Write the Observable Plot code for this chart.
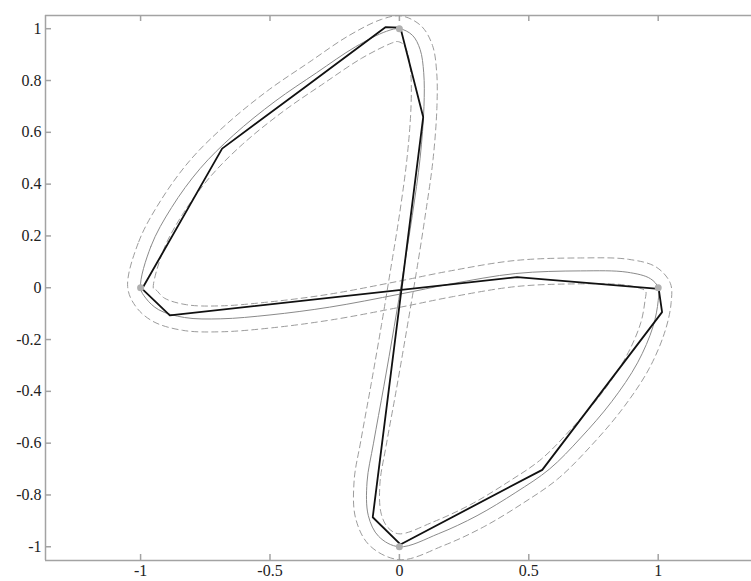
<!DOCTYPE html>
<html>
<head>
<meta charset="utf-8">
<script src="https://cdn.jsdelivr.net/npm/d3@7"></script>
<script src="https://cdn.jsdelivr.net/npm/@observablehq/plot@0.6"></script>
<style>
  html, body { margin: 0; padding: 0; background: #fff; }
  #chart svg { display: block; }
</style>
</head>
<body>
<div id="chart"></div>
<script>
// Axis ticks
const xTicks = [-1, -0.5, 0, 0.5, 1];
const yTicks = [-1, -0.8, -0.6, -0.4, -0.2, 0, 0.2, 0.4, 0.6, 0.8, 1];
const xDomain = [-1.3674, 1.3605];
const yDomain = [-1.053, 1.051];

// Sample nodes of the curve
const nodeX = [0, -1, 0, 1];
const nodeY = [1, 0, -1, 0];

// Piecewise-linear approximation (closed polygon)
const polyX = [-0.994, -0.685, -0.356, -0.054, 0.004, 0.092, -0.103, 0.004, 0.552, 1.015, 1.002, 0.455, -0.887];
const polyY = [-0.004, 0.537, 0.781, 1.006, 1.004, 0.659, -0.886, -0.991, -0.703, -0.094, -0.004, 0.041, -0.107];

// Smooth figure-eight curve (closed)
const curveX = [-1, -0.96, -0.88, -0.77, -0.64, -0.48, -0.32, -0.17, -0.05, 0, 0.05, 0.08, 0.094, 0.095, 0.08, 0.05, 0.015, -0.02, -0.06, -0.10, -0.125, -0.12, -0.08, 0, 0.15, 0.3, 0.45, 0.58, 0.7, 0.82, 0.92, 0.98, 1.0, 1, 0.97, 0.88, 0.7, 0.45, 0.2, 0, -0.27, -0.5, -0.69, -0.83, -0.93, -0.98];
const curveY = [0, 0.16, 0.31, 0.46, 0.59, 0.72, 0.83, 0.93, 0.99, 1, 0.975, 0.92, 0.83, 0.70, 0.50, 0.28, 0.06, -0.15, -0.38, -0.60, -0.75, -0.88, -0.96, -1, -0.95, -0.88, -0.79, -0.70, -0.58, -0.44, -0.29, -0.15, -0.05, 0, 0.035, 0.06, 0.065, 0.055, 0.015, -0.025, -0.075, -0.105, -0.12, -0.115, -0.085, -0.04];

// Tolerance band, first boundary (outside the upper loop, inside the lower loop)
const bandAX = [-1.05, -1.007, -0.922, -0.808, -0.673, -0.51, -0.348, -0.196, -0.069, 0.0075, 0.085, 0.128, 0.144, 0.145, 0.13, 0.099, 0.065, 0.029, -0.011, -0.051, -0.075, -0.071, -0.045, -0.002, 0.131, 0.277, 0.423, 0.548, 0.663, 0.78, 0.876, 0.933, 0.95, 0.953, 0.948, 0.8745, 0.7, 0.4545, 0.209, 0.009, -0.262, -0.495, -0.6885, -0.837, -0.952, -1.019];
const bandAY = [0.005, 0.178, 0.337, 0.493, 0.627, 0.76, 0.871, 0.973, 1.036, 1.0495, 1.01, 0.935, 0.833, 0.698, 0.495, 0.273, 0.056, -0.158, -0.389, -0.609, -0.754, -0.8695, -0.925, -0.95, -0.904, -0.836, -0.748, -0.662, -0.546, -0.41, -0.266, -0.134, -0.043, -0.017, -0.0097, 0.0103, 0.015, 0.005, -0.034, -0.074, -0.124, -0.155, -0.17, -0.1645, -0.13, -0.072];

// Tolerance band, second boundary (inside the upper loop, outside the lower loop)
const bandBX = [-0.95, -0.913, -0.838, -0.732, -0.607, -0.45, -0.292, -0.144, -0.031, -0.0075, 0.015, 0.032, 0.044, 0.045, 0.03, 0.001, -0.035, -0.069, -0.109, -0.149, -0.175, -0.169, -0.115, 0.002, 0.169, 0.324, 0.477, 0.612, 0.737, 0.86, 0.964, 1.027, 1.05, 1.047, 0.992, 0.8855, 0.7, 0.4455, 0.191, -0.009, -0.278, -0.505, -0.6915, -0.823, -0.908, -0.941];
const bandBY = [-0.005, 0.142, 0.283, 0.427, 0.553, 0.68, 0.789, 0.887, 0.944, 0.9505, 0.94, 0.905, 0.827, 0.702, 0.505, 0.287, 0.064, -0.142, -0.371, -0.591, -0.746, -0.8905, -0.995, -1.05, -0.996, -0.924, -0.832, -0.738, -0.614, -0.47, -0.314, -0.166, -0.057, 0.017, 0.08, 0.1097, 0.115, 0.105, 0.064, 0.024, -0.026, -0.055, -0.07, -0.0655, -0.04, -0.008];

const zip = (xs, ys) => xs.map((x, i) => ({x, y: ys[i]}));
const poly = zip(polyX, polyY);
const curve = zip(curveX, curveY);
const bandA = zip(bandAX, bandAY);
const bandB = zip(bandBX, bandBY);
const nodes = zip(nodeX, nodeY);

const W = 751, H = 581;
const mL = 45, mR = 0, mT = 15, mB = 21;
const plotW = W - mL - mR, plotH = H - mT - mB;
const axisColor = "#a3a3a3";
const font = "'Liberation Serif', 'Times New Roman', serif";

const chart = Plot.plot({
  width: W,
  height: H,
  marginLeft: mL,
  marginRight: mR,
  marginTop: mT,
  marginBottom: mB,
  style: {background: "#fff", fontFamily: font, fontSize: "16px", color: "#222"},
  x: {domain: xDomain, label: null},
  y: {domain: yDomain, label: null},
  marks: [
    // box edges (top, bottom, left)
    Plot.ruleY([yDomain[1]], {stroke: axisColor, strokeWidth: 1.5}),
    Plot.ruleY([yDomain[0]], {stroke: axisColor, strokeWidth: 1.5}),
    Plot.ruleX([xDomain[0]], {stroke: axisColor, strokeWidth: 1.5}),
    // inward tick marks
    Plot.tickX(xTicks, {x: d => d, insetTop: plotH - 6, stroke: axisColor, strokeWidth: 1.5}),
    Plot.tickX(xTicks, {x: d => d, insetBottom: plotH - 6, stroke: axisColor, strokeWidth: 1.5}),
    Plot.tickY(yTicks, {y: d => d, insetRight: plotW - 6, stroke: axisColor, strokeWidth: 1.5}),
    // tick labels
    Plot.axisX(xTicks, {anchor: "bottom", tickSize: 0, tickPadding: 4, tickFormat: d => String(d), fontFamily: font, fontSize: 16, fill: "#222", label: null}),
    Plot.axisY(yTicks, {anchor: "left", tickSize: 0, tickPadding: 4, tickFormat: d => String(d), fontFamily: font, fontSize: 16, fill: "#222", label: null}),
    // tolerance band boundaries
    Plot.line(bandA, {x: "x", y: "y", curve: "catmull-rom-closed", stroke: "#9c9c9c", strokeWidth: 1, strokeDasharray: "6,4"}),
    Plot.line(bandB, {x: "x", y: "y", curve: "catmull-rom-closed", stroke: "#9c9c9c", strokeWidth: 1, strokeDasharray: "6,4"}),
    // smooth curve
    Plot.line(curve, {x: "x", y: "y", curve: "catmull-rom-closed", stroke: "#8a8a8a", strokeWidth: 1}),
    // polygonal approximation
    Plot.line(poly, {x: "x", y: "y", curve: "linear-closed", stroke: "#111", strokeWidth: 1.8}),
    // sample nodes
    Plot.dot(nodes, {x: "x", y: "y", r: 3.5, fill: "#b0b0b0", stroke: "none"})
  ]
});

document.getElementById("chart").appendChild(chart);
</script>
</body>
</html>
